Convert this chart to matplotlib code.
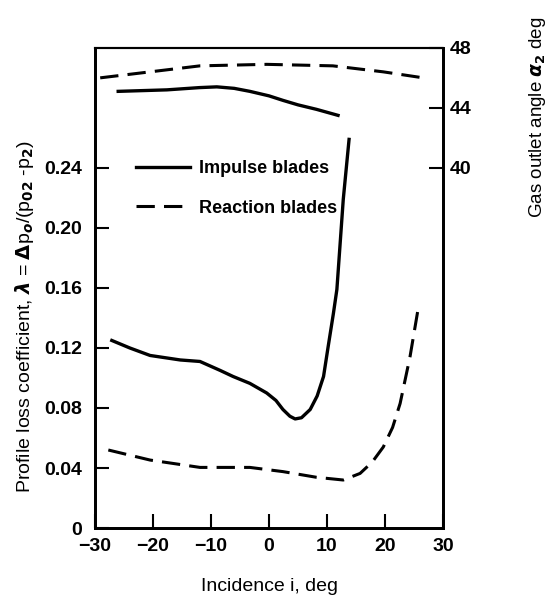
import numpy as np
from matplotlib import pyplot as plt

plt.rcParams['font.family'] = ['Liberation Sans', 'DejaVu Sans']
plt.rcParams['font.weight'] = 'bold'

# impulse blades, loss coefficient
imp_inc = [-27.1, -24.0, -20.5, -15.3, -11.9, -8.4, -6.2, -3.3, -0.4, 1.2, 2.4, 3.6, 4.5, 5.6, 7.1, 8.3, 9.4, 10.2, 11.1, 11.7, 12.8, 13.8]
imp_loss = [0.125, 0.120, 0.115, 0.112, 0.111, 0.105, 0.101, 0.0964, 0.090, 0.085, 0.079, 0.0745, 0.0727, 0.0735, 0.079, 0.088, 0.101, 0.121, 0.143, 0.159, 0.219, 0.259]
# reaction blades, loss coefficient
rea_inc = [-27.7, -20.5, -11.9, -3.3, 2.4, 8.2, 12.8, 15.7, 17.8, 19.7, 21.3, 22.6, 24.3, 25.7]
rea_loss = [0.052, 0.0453, 0.0404, 0.0404, 0.0376, 0.0338, 0.032, 0.0364, 0.044, 0.054, 0.067, 0.083, 0.114, 0.146]
# outlet angles
imp_ang_inc = [-26, -17.6, -12, -9, -6, -3.3, 0, 2.4, 5, 8.2, 11.9]
imp_ang = [45.1, 45.2, 45.35, 45.4, 45.3, 45.1, 44.8, 44.5, 44.2, 43.9, 43.5]
rea_ang_inc = [-29.1, -20.5, -11.9, -0.4, 11.0, 19.7, 26.6]
rea_ang = [46.0, 46.4, 46.8, 46.9, 46.8, 46.4, 46.0]

fig = plt.figure(figsize=(5.49, 5.98), dpi=100)
ax = fig.add_axes([0.173, 0.117, 0.634, 0.803])
ax2 = ax.twinx()

ax.plot(imp_inc, imp_loss, 'k-', lw=2.4, label='Impulse blades')
ax.plot(rea_inc, rea_loss, 'k--', lw=2.2, dashes=(6, 3), label='Reaction blades')
ax2.plot(imp_ang_inc, imp_ang, 'k-', lw=2.4)
ax2.plot(rea_ang_inc, rea_ang, 'k--', lw=2.2, dashes=(6, 3))

ax.set_xlim(-30, 30)
ax.set_ylim(0, 0.32)
ax2.set_ylim(16, 48)
ax.set_xticks([-30, -20, -10, 0, 10, 20, 30])
ax.set_xticklabels(['\u221230', '\u221220', '\u221210', '0', '10', '20', '30'])
ax.set_yticks([0, 0.04, 0.08, 0.12, 0.16, 0.20, 0.24])
ax.set_yticklabels(['0', '0.04', '0.08', '0.12', '0.16', '0.20', '0.24'])
ax2.set_yticks([40, 44, 48])

ax.tick_params(direction='in', length=10, width=1.5, labelsize=14, pad=9)
ax.tick_params(axis='x', pad=7)
ax2.tick_params(direction='in', length=10, width=1.5, labelsize=14, pad=5)
for a in (ax, ax2):
    for s in ['left', 'bottom', 'right']:
        a.spines[s].set_linewidth(2)
    a.spines['top'].set_linewidth(1.5)

ax.set_xlabel('Incidence i, deg', fontsize=14)
ax.xaxis.set_label_coords(0.5, -0.105)
ax.set_ylabel(r'Profile loss coefficient, $\lambda$ = $\Delta$p$_o$/(p$_{02}$ -p$_2$)', fontsize=14)
ax.yaxis.set_label_coords(-0.17, 0.44)
ax2.set_ylabel(r'Gas outlet angle $\alpha_2$ deg', fontsize=13.5)
ax2.yaxis.set_label_coords(1.241, 0.856)

ax.legend(loc='upper left', bbox_to_anchor=(0.07, 0.8), frameon=False, fontsize=13,
          handlelength=3.0, labelspacing=1.25, handletextpad=0.5)

plt.savefig('out.png')
